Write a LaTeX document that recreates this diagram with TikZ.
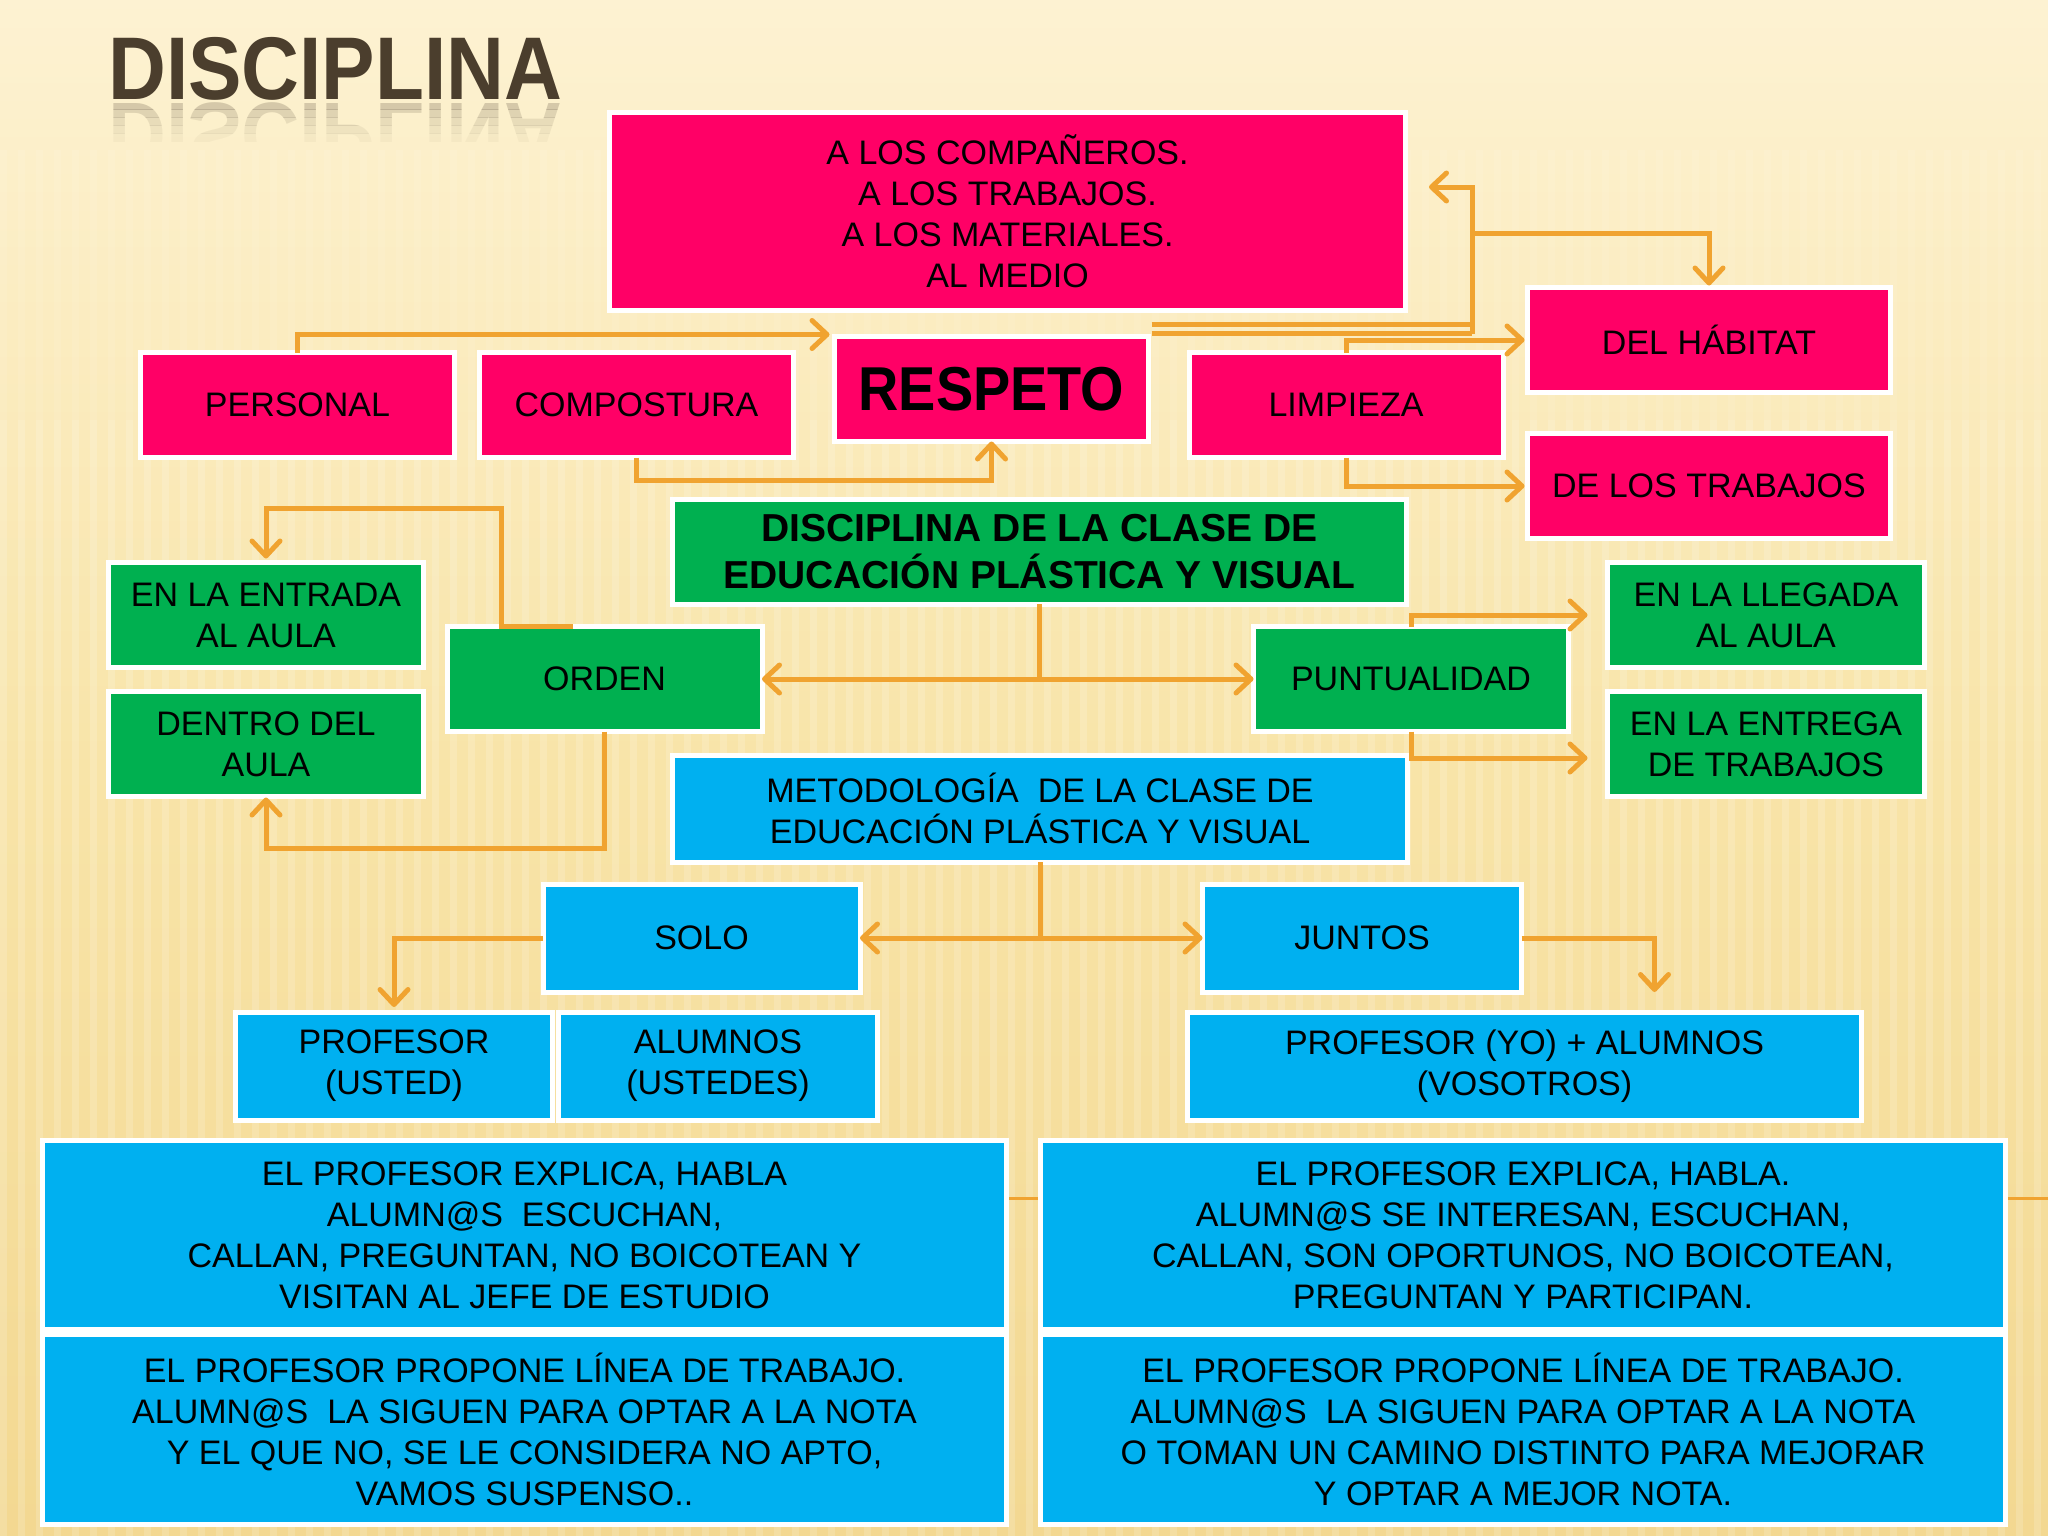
\documentclass[tikz,border=0pt]{standalone}
\usepackage{fontspec}
\setmainfont{Liberation Sans}
\newfontfamily\narrowfont{Liberation Sans}[FakeStretch=0.9]
\usetikzlibrary{arrows.meta}
\definecolor{pinkc}{RGB}{255,0,102}
\definecolor{greenc}{RGB}{0,176,80}
\definecolor{bluec}{RGB}{0,176,240}
\definecolor{orangec}{RGB}{240,163,48}
\definecolor{titlec}{RGB}{75,62,45}
\definecolor{bgtop}{RGB}{253,242,210}
\definecolor{bgmid}{RGB}{248,228,168}
\definecolor{bgbot}{RGB}{243,216,145}
\begin{document}
\begin{tikzpicture}[x=1pt,y=-1pt,
  >={Straight Barb[length=15pt,width=28pt,round]},
  cbox/.style={draw=white,line width=5pt,inner sep=0pt,outer sep=0pt,align=center,text=black,
    font=\fontsize{34}{41}\selectfont},
  pinkbox/.style={cbox,fill=pinkc},
  greenbox/.style={cbox,fill=greenc},
  bluebox/.style={cbox,fill=bluec},
  conn/.style={draw=orangec,line width=5pt},
  titlefont/.style={font=\narrowfont\bfseries\fontsize{89}{89}\selectfont,text=titlec,inner sep=0pt}]
\useasboundingbox (0,0) rectangle (2048,1536);
% background
\shade[top color=bgtop, bottom color=bgbot, middle color=bgmid] (0,0) rectangle (2048,1536);
\foreach \x in {0,18,...,2048} {
  \fill[white,opacity=0.08] (\x,150) rectangle (\x+7,420);
  \fill[white,opacity=0.16] (\x,420) rectangle (\x+7,1536);
}
\draw[orangec,line width=3pt] (1000,1198) -- (2048,1198);
% title
\node[titlefont,anchor=base west] (title) at (108,100) {DISCIPLINA};
\foreach \i/\op in {0/0.22,1/0.16,2/0.11,3/0.07,4/0.04} {
  \begin{scope}
    \clip (100,102+8*\i) rectangle (600,110+8*\i);
    \node[titlefont,anchor=base west,yscale=-1,opacity=\op] (titlerefl\i) at (108,104) {DISCIPLINA};
  \end{scope}
}
% boxes
\node[pinkbox,minimum width=796,minimum height=198] (top) at (1007.5,211.5)
  {A LOS COMPAÑEROS.\\A LOS TRABAJOS.\\A LOS MATERIALES.\\AL MEDIO};
\node[pinkbox,minimum width=314,minimum height=105] (personal) at (297.5,405) {PERSONAL};
\node[pinkbox,minimum width=314,minimum height=105] (compostura) at (636.5,405) {COMPOSTURA};
\node[pinkbox,minimum width=314,minimum height=105,font=\narrowfont\bfseries\fontsize{62}{62}\selectfont] (respeto) at (991.5,389) {RESPETO};
\node[pinkbox,minimum width=314,minimum height=105] (limpieza) at (1346,405) {LIMPIEZA};
\node[pinkbox,minimum width=363,minimum height=105] (habitat) at (1709,340) {DEL HÁBITAT};
\node[pinkbox,minimum width=363,minimum height=105] (trabajos) at (1709,486) {DE LOS TRABAJOS};
\node[greenbox,minimum width=734,minimum height=105,font=\bfseries\fontsize{39}{47}\selectfont] (disciplina) at (1039.5,551.5)
  {DISCIPLINA DE LA CLASE DE\\EDUCACIÓN PLÁSTICA Y VISUAL};
\node[greenbox,minimum width=315,minimum height=105] (entrada) at (266,615) {EN LA ENTRADA\\AL AULA};
\node[greenbox,minimum width=315,minimum height=105] (dentro) at (266,744) {DENTRO DEL\\AULA};
\node[greenbox,minimum width=315,minimum height=105] (orden) at (604.5,679) {ORDEN};
\node[greenbox,minimum width=315,minimum height=105] (punt) at (1411,679) {PUNTUALIDAD};
\node[greenbox,minimum width=317,minimum height=105] (llegada) at (1766,615) {EN LA LLEGADA\\AL AULA};
\node[greenbox,minimum width=317,minimum height=105] (entrega) at (1766,744) {EN LA ENTREGA\\DE TRABAJOS};
\node[bluebox,minimum width=735,minimum height=107] (metod) at (1040,808.5)
  {METODOLOGÍA~ DE LA CLASE DE\\EDUCACIÓN PLÁSTICA Y VISUAL};
\node[bluebox,minimum width=317,minimum height=108] (solo) at (701.5,938) {SOLO};
\node[bluebox,minimum width=319,minimum height=108] (juntos) at (1362,938) {JUNTOS};
\node[bluebox,minimum width=317,minimum height=108] (prof) at (394,1066) {PROFESOR\\(USTED)};
\node[bluebox,minimum width=319,minimum height=108] (alumnos) at (718,1066) {ALUMNOS\\(USTEDES)};
\node[bluebox,minimum width=674,minimum height=108] (yo) at (1524.5,1066) {PROFESOR (YO) + ALUMNOS\\(VOSOTROS)};
\node[bluebox,minimum width=964,minimum height=189] (lu) at (524.5,1235)
  {EL PROFESOR EXPLICA, HABLA\\ALUMN@S~ ESCUCHAN,\\CALLAN, PREGUNTAN, NO BOICOTEAN Y\\VISITAN AL JEFE DE ESTUDIO};
\node[bluebox,minimum width=964,minimum height=190] (ll) at (524.5,1429.5)
  {EL PROFESOR PROPONE LÍNEA DE TRABAJO.\\ALUMN@S~ LA SIGUEN PARA OPTAR A LA NOTA\\Y EL QUE NO, SE LE CONSIDERA NO APTO,\\VAMOS SUSPENSO..};
\node[bluebox,minimum width=965,minimum height=189] (ru) at (1523,1235)
  {EL PROFESOR EXPLICA, HABLA.\\ALUMN@S SE INTERESAN, ESCUCHAN,\\CALLAN, SON OPORTUNOS, NO BOICOTEAN,\\PREGUNTAN Y PARTICIPAN.};
\node[bluebox,minimum width=965,minimum height=190] (rl) at (1523,1429.5)
  {EL PROFESOR PROPONE LÍNEA DE TRABAJO.\\ALUMN@S~ LA SIGUEN PARA OPTAR A LA NOTA\\O TOMAN UN CAMINO DISTINTO PARA MEJORAR\\Y OPTAR A MEJOR NOTA.};
% helper coordinates
\coordinate (hubA) at (1472,324.5);
\coordinate (hubB) at (1472,333.5);
\coordinate (branch) at (1472,233);
\coordinate (topIn) at (1429,187);
% connectors
\draw[conn,->] (personal.north) |- ([xshift=-5pt,yshift=2pt]respeto.north west);
\draw[conn,->] (compostura.south) -- ++(0,23) -| (respeto.south);
\draw[conn] ([xshift=3pt,yshift=12pt]respeto.north east) -- (hubA);
\draw[conn] ([xshift=3pt,yshift=3pt]respeto.north east) -- (hubB);
\draw[conn,->] (hubB) |- (topIn);
\draw[conn,->] (branch) -| ([yshift=2pt]habitat.north);
\draw[conn,->] (limpieza.north) |- ([xshift=-3pt]habitat.west);
\draw[conn,->] (limpieza.south) |- ([xshift=-3pt]trabajos.west);
\draw[conn] (disciplina.south) -- (disciplina.south |- orden.east);
\draw[conn,<->] (orden.east) -- (punt.west);
\draw[conn,->] ([xshift=126pt]orden.north west) -- ([xshift=54pt]orden.north west)
  |- ([yshift=54pt]entrada.north) -- ([yshift=4pt]entrada.north);
\draw[conn,->] (orden.south) -- ++(0,117) -| ([yshift=-1pt]dentro.south);
\draw[conn,->] (punt.north) |- ([xshift=-20pt]llegada.west);
\draw[conn,->] (punt.south) |- ([xshift=-20pt,yshift=-14pt]entrega.west);
\draw[conn] (metod.south) -- (metod.south |- solo.east);
\draw[conn,<->] (solo.east) -- (juntos.west);
\draw[conn,->] (solo.west) -| ([yshift=5pt]prof.north);
\draw[conn,->] (juntos.east) -| ([xshift=130pt,yshift=20pt]yo.north);
\end{tikzpicture}
\end{document}
